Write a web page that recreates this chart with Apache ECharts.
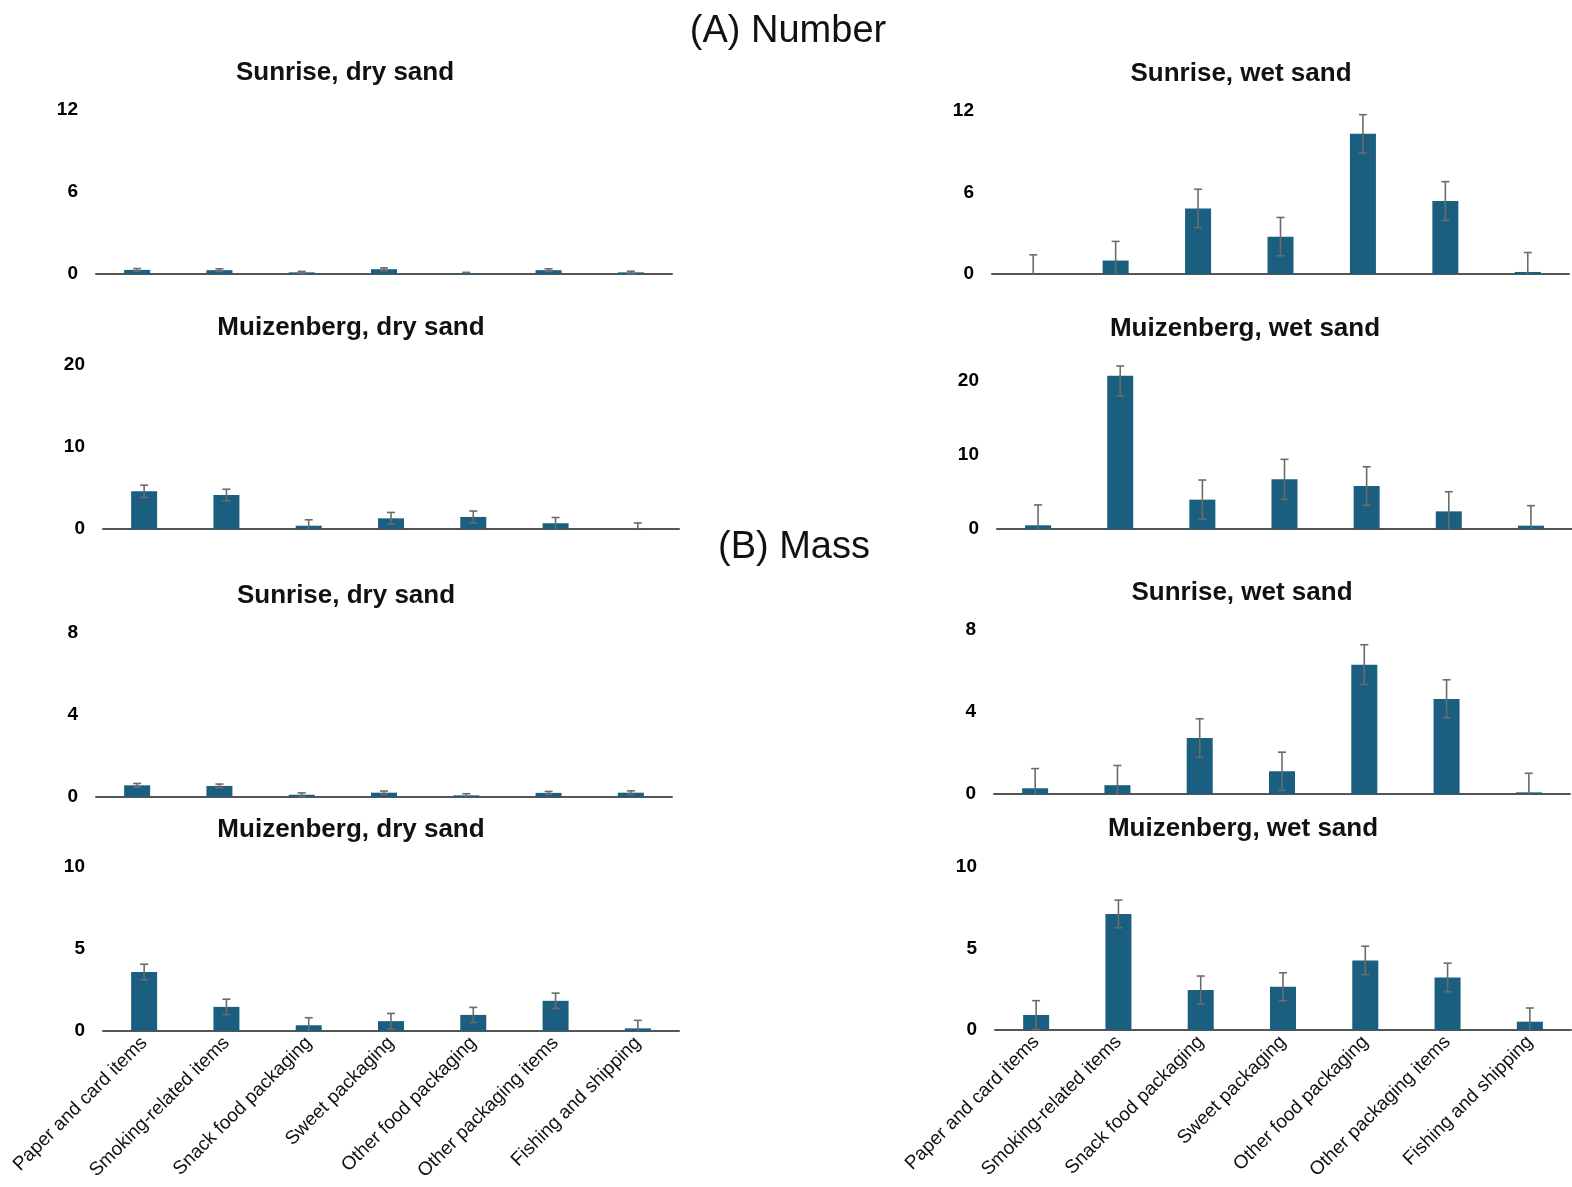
<!DOCTYPE html>
<html>
<head>
<meta charset="utf-8">
<script src="https://cdn.jsdelivr.net/npm/echarts@6/dist/echarts.min.js"></script>
<style>
  html, body { margin: 0; padding: 0; background: #ffffff; }
  #chart { width: 1572px; height: 1187px; }
</style>
</head>
<body>
<div id="chart"></div>
<script>
// Litter categories (shared by every panel)
const categories = [
  'Paper and card items', 'Smoking-related items', 'Snack food packaging',
  'Sweet packaging', 'Other food packaging', 'Other packaging items', 'Fishing and shipping'
];

// (A) Number — means and standard errors
const sunriseDryNum      = [0.30, 0.28, 0.12, 0.35, 0.05, 0.28, 0.12];
const sunriseDryNumSE    = [0.10, 0.10, 0.07, 0.10, 0.07, 0.10, 0.08];
const muizDryNum         = [4.60, 4.15, 0.40, 1.30, 1.47, 0.70, 0.04];
const muizDryNumSE       = [0.75, 0.70, 0.72, 0.72, 0.72, 0.70, 0.70];
const sunriseWetNum      = [0.00, 0.99, 4.83, 2.75, 10.32, 5.37, 0.15];
const sunriseWetNumSE    = [1.41, 1.41, 1.41, 1.41, 1.41, 1.43, 1.43];
const muizWetNum         = [0.50, 20.67, 3.96, 6.70, 5.80, 2.38, 0.45];
const muizWetNumSE       = [2.75, 2.70, 2.65, 2.70, 2.60, 2.65, 2.70];

// (B) Mass — means and standard errors
const sunriseDryMass     = [0.57, 0.54, 0.11, 0.21, 0.08, 0.20, 0.21];
const sunriseDryMassSE   = [0.09, 0.09, 0.09, 0.08, 0.08, 0.07, 0.09];
const muizDryMass        = [3.60, 1.47, 0.35, 0.60, 0.98, 1.84, 0.16];
const muizDryMassSE      = [0.47, 0.47, 0.46, 0.47, 0.46, 0.47, 0.49];
const sunriseWetMass     = [0.28, 0.43, 2.73, 1.11, 6.31, 4.64, 0.08];
const sunriseWetMassSE   = [0.96, 0.96, 0.94, 0.93, 0.97, 0.93, 0.93];
const muizWetMass        = [0.92, 7.12, 2.45, 2.65, 4.27, 3.22, 0.51];
const muizWetMassSE      = [0.88, 0.85, 0.86, 0.86, 0.87, 0.88, 0.84];

// Y-axis ranges: max and tick interval per panel
const yMaxes     = [12, 20, 8, 10, 12, 22, 8, 10];
const yIntervals = [6, 10, 4, 5, 6, 10, 4, 5];

const panelTitles = [
  'Sunrise, dry sand', 'Muizenberg, dry sand', 'Sunrise, dry sand', 'Muizenberg, dry sand',
  'Sunrise, wet sand', 'Muizenberg, wet sand', 'Sunrise, wet sand', 'Muizenberg, wet sand'
];

const panelValues = [sunriseDryNum, muizDryNum, sunriseDryMass, muizDryMass,
                     sunriseWetNum, muizWetNum, sunriseWetMass, muizWetMass];
const panelErrors = [sunriseDryNumSE, muizDryNumSE, sunriseDryMassSE, muizDryMassSE,
                     sunriseWetNumSE, muizWetNumSE, sunriseWetMassSE, muizWetMassSE];

// Plot rectangles and title anchors
const grids = [
  { left: 96,  top: 110, width: 576, height: 164 },
  { left: 103, top: 365, width: 576, height: 164 },
  { left: 96,  top: 633, width: 576, height: 164 },
  { left: 103, top: 867, width: 576, height: 164 },
  { left: 992, top: 111, width: 577, height: 163 },
  { left: 997, top: 366, width: 576, height: 163 },
  { left: 994, top: 630, width: 576, height: 164 },
  { left: 995, top: 867, width: 576, height: 163 }
];
const titlePos = [
  [345, 73], [351, 328], [346, 596], [351, 830],
  [1241, 74], [1245, 329], [1242, 593], [1243, 829]
];

const FONT = '"Liberation Sans", Arial, Helvetica, sans-serif';
const BAR_COLOR = '#1a5e80';
const ERR_COLOR = '#6b6b6b';

const chart = echarts.init(document.getElementById('chart'), null, { renderer: 'canvas' });

const option = {
  backgroundColor: '#ffffff',
  animation: false,
  grid: grids.map(g => Object.assign({ containLabel: false }, g)),
  xAxis: grids.map((g, i) => ({
    type: 'category',
    gridIndex: i,
    data: categories,
    boundaryGap: true,
    axisLine: { show: true, lineStyle: { color: '#555555', width: 2 } },
    axisTick: { show: false },
    splitLine: { show: false },
    axisLabel: {
      show: i === 3 || i === 7,
      interval: 0,
      rotate: 45,
      margin: 9,
      fontSize: 19,
      color: '#111111',
      fontFamily: FONT
    }
  })),
  yAxis: grids.map((g, i) => ({
    type: 'value',
    gridIndex: i,
    min: 0,
    max: yMaxes[i],
    interval: yIntervals[i],
    axisLine: { show: false },
    axisTick: { show: false },
    splitLine: { show: false },
    axisLabel: {
      margin: 18,
      fontSize: 19,
      fontWeight: 'bold',
      color: '#000000',
      fontFamily: FONT,
      formatter: v => (v % yIntervals[i] === 0 ? String(v) : '')
    }
  })),
  series: [],
  graphic: []
};

panelValues.forEach((vals, i) => {
  option.series.push({
    type: 'bar',
    xAxisIndex: i,
    yAxisIndex: i,
    data: vals,
    barWidth: 26,
    itemStyle: { color: BAR_COLOR },
    z: 2
  });
  const errs = panelErrors[i];
  const yMax = yMaxes[i];
  option.series.push({
    type: 'custom',
    xAxisIndex: i,
    yAxisIndex: i,
    z: 3,
    data: vals.map((v, k) => [k, v - errs[k], v + errs[k]]),
    renderItem: function (params, api) {
      const k = api.value(0);
      const lo = Math.max(0, api.value(1));
      const hi = Math.min(yMax, api.value(2));
      const pLo = api.coord([k, lo]);
      const pHi = api.coord([k, hi]);
      const cap = 4;
      const style = { stroke: ERR_COLOR, lineWidth: 1.6, fill: null };
      const children = [
        { type: 'line', shape: { x1: pHi[0], y1: pHi[1], x2: pLo[0], y2: pLo[1] }, style: style },
        { type: 'line', shape: { x1: pHi[0] - cap, y1: pHi[1], x2: pHi[0] + cap, y2: pHi[1] }, style: style }
      ];
      if (lo > 0) {
        children.push({ type: 'line', shape: { x1: pLo[0] - cap, y1: pLo[1], x2: pLo[0] + cap, y2: pLo[1] }, style: style });
      }
      return { type: 'group', children: children };
    }
  });
  option.graphic.push({
    type: 'text',
    x: titlePos[i][0],
    y: titlePos[i][1],
    style: {
      text: panelTitles[i],
      align: 'center',
      verticalAlign: 'middle',
      fontSize: 26,
      fontWeight: 'bold',
      fontFamily: FONT,
      fill: '#111111'
    }
  });
});

// Section headings
option.graphic.push({
  type: 'text', x: 788, y: 32,
  style: { text: '(A) Number', align: 'center', verticalAlign: 'middle', fontSize: 38, fontFamily: FONT, fill: '#111111' }
});
option.graphic.push({
  type: 'text', x: 794, y: 548,
  style: { text: '(B) Mass', align: 'center', verticalAlign: 'middle', fontSize: 38, fontFamily: FONT, fill: '#111111' }
});

chart.setOption(option);
</script>
</body>
</html>
